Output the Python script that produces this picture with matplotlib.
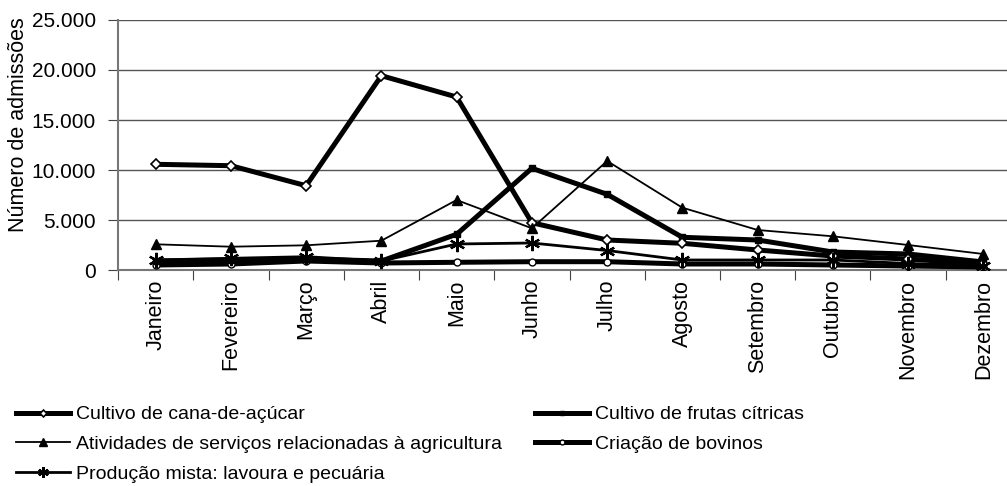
import matplotlib
matplotlib.use('Agg')
import matplotlib.pyplot as plt
from matplotlib.ticker import FuncFormatter, FixedLocator

#     *****     dados     *****
meses = ['Janeiro', 'Fevereiro', 'Março', 'Abril', 'Maio', 'Junho',
         'Julho', 'Agosto', 'Setembro', 'Outubro', 'Novembro', 'Dezembro']

cana = [10570, 10430, 8430, 19430, 17300, 4730, 3000, 2670, 2000, 1400, 1100, 600]
frutas = [900, 1000, 1100, 900, 3570, 10170, 7570, 3270, 3000, 1800, 1600, 800]
servicos = [2570, 2330, 2470, 2930, 7000, 4170, 10900, 6230, 4000, 3370, 2500, 1600]
bovinos = [500, 600, 900, 700, 770, 830, 830, 600, 600, 500, 400, 300]
mista = [1000, 1170, 1330, 900, 2600, 2700, 1950, 1000, 1000, 1000, 650, 450]

plt.rcParams['font.family'] = ['Liberation Sans', 'DejaVu Sans']
plt.rcParams['font.size'] = 14

fig = plt.figure(figsize=(10.07, 4.86), dpi=100)
W, H = 1007, 486
# area do grafico (em pixel): esquerda 118, direita 1021 (cortada), topo 20, base 270
ax = fig.add_axes([118 / W, (H - 270) / H, (1021 - 118) / W, 250 / H])

x = range(len(meses))
l_cana, = ax.plot(x, cana, color='black', lw=3.6, marker='D', ms=5,
                  mfc='white', mec='black', mew=1.2, zorder=5)
l_frutas, = ax.plot(x, frutas, color='black', lw=3.6, marker='s', ms=5,
                    mfc='black', mec='black', zorder=4)
l_serv, = ax.plot(x, servicos, color='black', lw=1.3, marker='^', ms=7.5,
                  mfc='black', mec='black', zorder=6)
l_bov, = ax.plot(x, bovinos, color='black', lw=3.6, marker='o', ms=5,
                 mfc='white', mec='black', mew=1.0, zorder=3)
l_mista, = ax.plot(x, mista, color='black', lw=2.0, marker=(6, 2, 0), ms=11,
                   mfc='black', mec='black', mew=1.6, zorder=7)

ax.set_xlim(-0.5, len(meses) - 0.5)
ax.set_ylim(0, 25000)
ax.yaxis.set_major_locator(FixedLocator([0, 5000, 10000, 15000, 20000, 25000]))
ax.yaxis.set_major_formatter(FuncFormatter(lambda v, p: f'{int(v):,}'.replace(',', '.')))
ax.grid(axis='y', color='#555555', lw=1.0)
ax.set_axisbelow(True)

ax.set_xticks([i + 0.5 for i in range(len(meses) - 1)] + [-0.5])
ax.set_xticklabels([])
ax.set_xticks(list(x), minor=True)
ax.set_xticklabels(meses, minor=True, rotation=90, va='top', fontsize=15.5)
ax.tick_params(axis='x', which='minor', length=0, pad=7)
ax.tick_params(axis='x', which='major', length=7, color='#444444', direction='out')
ax.tick_params(axis='y', length=7, color='#444444', pad=9, labelsize=15)

for s in ['top', 'right']:
    ax.spines[s].set_visible(False)
ax.spines['left'].set_color('#777777')
ax.spines['bottom'].set_color('#777777')
ax.spines['left'].set_linewidth(1.5)
ax.spines['bottom'].set_linewidth(1.5)

ax.set_ylabel('Número de admissões', fontsize=15.5)
ax.yaxis.set_label_coords(-89 / (1021 - 118), 0.58)

rotulos = ['Cultivo de cana-de-açúcar',
           'Atividades de serviços relacionadas à agricultura',
           'Produção mista: lavoura e pecuária',
           'Cultivo de frutas cítricas',
           'Criação de bovinos']
leg = fig.legend([l_cana, l_serv, l_mista, l_frutas, l_bov], rotulos,
                 ncol=2, loc='upper left', bbox_to_anchor=(8 / W, 1 - 398 / H),
                 frameon=False, handlelength=2.8, handletextpad=0.28,
                 columnspacing=1.7, labelspacing=0.62, numpoints=1,
                 markerscale=0.7, borderaxespad=0)

fig.savefig('out.png', dpi=100)
